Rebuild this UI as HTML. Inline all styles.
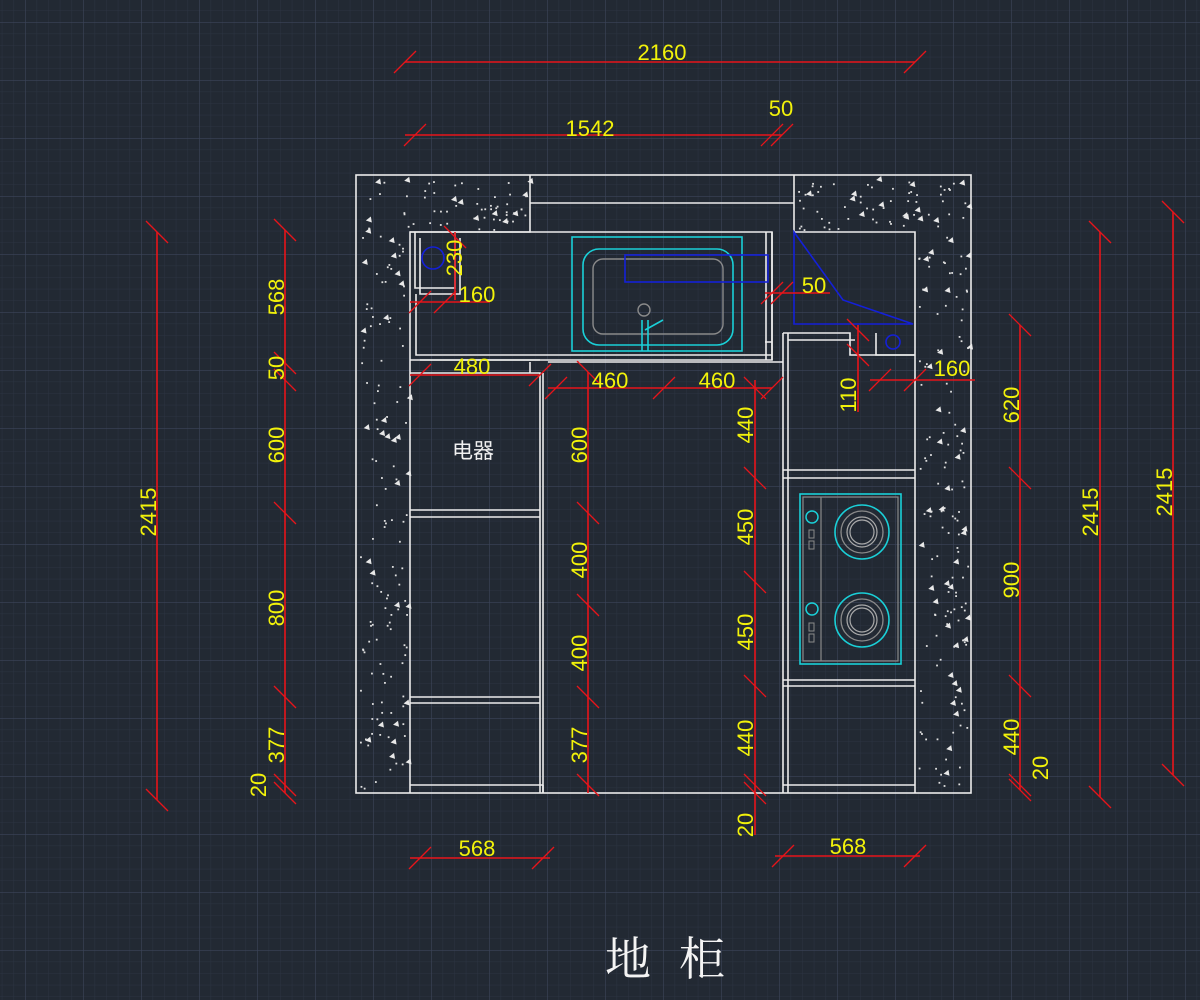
<!DOCTYPE html>
<html><head><meta charset="utf-8"><style>
html,body{margin:0;padding:0;background:#222933;}
svg{display:block}
.dim{stroke:#e8141a;stroke-width:1.6;fill:none}
.tk{stroke:#e8141a;stroke-width:1.3}
.t{fill:#f2f20a;font-family:"Liberation Sans",sans-serif;font-size:22px}
.w{stroke:#ececec;stroke-width:1.6;fill:none}
</style></head><body>
<svg id="s" width="1200" height="1000" viewBox="0 0 1200 1000" xmlns="http://www.w3.org/2000/svg">
<defs>
<pattern id="mi" width="11.6" height="11.6" patternUnits="userSpaceOnUse" x="25" y="22"><path d="M0 0H11.6M0 0V11.6" stroke="#2c3442" stroke-width="1"/></pattern>
<pattern id="ma" width="58" height="58" patternUnits="userSpaceOnUse" x="25" y="22"><path d="M0 0H58M0 0V58" stroke="#3c4459" stroke-width="1.2"/></pattern>
</defs>
<rect width="1200" height="1000" fill="#222933"/>
<rect width="1200" height="1000" fill="url(#mi)"/>
<rect width="1200" height="1000" fill="url(#ma)"/>
<g id="hatch"></g>
<g class="w">
<rect x="356" y="175" width="615" height="618"/>
<path d="M410 793V232H530V175M530 203H794M794 175V232H915V793"/>
<path d="M410 232H772V360H410"/>
<path d="M415 232V288H455V232M420 238V294H460V238"/>
<path d="M416 294V355H772M420 360H540"/>
<path d="M766 232V360M772 232V360M765 342H772"/>
<path d="M530 362V373M410 373H540V793M543 373V793M548 362H783"/>
<path d="M410 510H540M410 517H540M410 697H540M410 703H540M410 785H543M543 793V785"/>
<path d="M783 333V793M788 333V793M783 333H850V355H915M788 340H855"/>
<path d="M783 470H915M783 478H915M783 680H915M783 686H915M783 785H915"/>
<path d="M876 333V355H915"/>
</g>
<g fill="none">
<rect x="572" y="237" width="170" height="114" stroke="#1ad0d8" stroke-width="1.6"/>
<rect x="583" y="249" width="150" height="96" rx="16" stroke="#1ad0d8" stroke-width="1.6"/>
<rect x="593" y="259" width="130" height="75" rx="10" stroke="#8a8a8a" stroke-width="1.4"/>
<circle cx="644" cy="310" r="6" stroke="#8a8a8a" stroke-width="1.4"/>
<path d="M642 320V351M648 320V351M645 330L663 320" stroke="#1ad0d8" stroke-width="1.6"/>
<rect x="625" y="255" width="143" height="27" stroke="#1420d8" stroke-width="1.6"/>
<circle cx="433" cy="258" r="11" stroke="#1420d8" stroke-width="1.6"/>
<path d="M794 232L843 300L913 324H794Z" stroke="#1420d8" stroke-width="1.6"/>
<circle cx="893" cy="342" r="7" stroke="#1420d8" stroke-width="1.6"/>
</g>
<g fill="none">
<rect x="800" y="494" width="101" height="170" stroke="#1ad0d8" stroke-width="1.6"/>
<rect x="803" y="497" width="95" height="164" stroke="#8a8a8a" stroke-width="1.2"/>
<path d="M821 497V661" stroke="#8a8a8a" stroke-width="1.2"/>
<circle cx="812" cy="517" r="6" stroke="#1ad0d8" stroke-width="1.5"/>
<circle cx="812" cy="609" r="6" stroke="#1ad0d8" stroke-width="1.5"/>
<path d="M809 530h5v8h-5zM809 541h5v8h-5zM809 623h5v8h-5zM809 634h5v8h-5z" stroke="#8a8a8a" stroke-width="1"/>
<circle cx="862" cy="532" r="27" stroke="#1ad0d8" stroke-width="1.6"/>
<circle cx="862" cy="532" r="21" stroke="#8a8a8a" stroke-width="1.3"/>
<circle cx="862" cy="532" r="15" stroke="#aaa" stroke-width="1.2"/>
<circle cx="862" cy="532" r="12" stroke="#aaa" stroke-width="1.2"/>
<circle cx="862" cy="620" r="27" stroke="#1ad0d8" stroke-width="1.6"/>
<circle cx="862" cy="620" r="21" stroke="#8a8a8a" stroke-width="1.3"/>
<circle cx="862" cy="620" r="15" stroke="#aaa" stroke-width="1.2"/>
<circle cx="862" cy="620" r="12" stroke="#aaa" stroke-width="1.2"/>
</g>
<g id="dims"></g>
<g class="t">
<text x="662" y="60" text-anchor="middle">2160</text>
<text x="590" y="136" text-anchor="middle">1542</text>
<text x="781" y="116" text-anchor="middle">50</text>
<text x="477" y="302" text-anchor="middle">160</text>
<text x="814" y="293" text-anchor="middle">50</text>
<text x="472" y="374" text-anchor="middle">480</text>
<text x="610" y="388" text-anchor="middle">460</text>
<text x="717" y="388" text-anchor="middle">460</text>
<text x="952" y="376" text-anchor="middle">160</text>
<text x="477" y="856" text-anchor="middle">568</text>
<text x="848" y="854" text-anchor="middle">568</text>
</g>
<g id="vt" class="t"></g>
<text x="473" y="458" text-anchor="middle" fill="#f0f0f0" font-family="'Liberation Sans','Noto Sans CJK SC',sans-serif" font-size="21">电器</text>
<text x="628" y="975" text-anchor="middle" fill="#f4f4f4" font-family="'Liberation Serif','Noto Serif CJK SC',serif" font-size="46">地</text>
<text x="702" y="975" text-anchor="middle" fill="#f4f4f4" font-family="'Liberation Serif','Noto Serif CJK SC',serif" font-size="46">柜</text>
</svg>
<script>
var NS="http://www.w3.org/2000/svg";
function el(p,t,a){var e=document.createElementNS(NS,t);for(var k in a)e.setAttribute(k,a[k]);p.appendChild(e);return e;}
var D=document.getElementById('dims');
function tickV(x,y){el(D,'line',{x1:x-11,y1:y-11,x2:x+11,y2:y+11,'class':'tk'});}
function tickH(x,y){el(D,'line',{x1:x-11,y1:y+11,x2:x+11,y2:y-11,'class':'tk'});}
function H(y,x1,x2,ts){el(D,'line',{x1:x1,y1:y,x2:x2,y2:y,'class':'dim'});(ts||[x1,x2]).forEach(function(x){tickH(x,y)});}
function V(x,y1,y2,ts){el(D,'line',{x1:x,y1:y1,x2:x,y2:y2,'class':'dim'});(ts||[y1,y2]).forEach(function(y){tickV(x,y)});}
H(62,405,915);H(135,405,782,[415,772,782]);
H(302,410,490,[420,445]);H(293,765,830,[772,782]);
H(375,410,540,[420,540]);H(388,548,772,[556,664,772]);
H(380,870,975,[880,915]);
H(858,410,550,[420,543]);H(856,775,920,[783,915]);
V(157,232,800);V(285,230,793,[230,363,380,513,697,785,793]);
V(588,372,793,[372,513,605,697,785]);V(755,380,835,[388,478,582,686,785,793]);
V(1020,325,790,[325,478,686,785,790]);V(1100,232,797);V(1173,212,775);
V(858,325,412,[330,355]);V(455,232,300,[237]);
var VT=document.getElementById('vt');
function vt(x,y,s){var t=el(VT,'text',{x:0,y:0,'text-anchor':'middle',transform:'translate('+x+','+y+') rotate(-90)'});t.textContent=s;}
vt(156,512,'2415');vt(284,297,'568');vt(284,368,'50');vt(284,445,'600');vt(284,608,'800');vt(284,745,'377');vt(266,785,'20');
vt(587,445,'600');vt(587,560,'400');vt(587,653,'400');vt(587,745,'377');
vt(753,425,'440');vt(753,527,'450');vt(753,632,'450');vt(753,738,'440');vt(753,825,'20');
vt(1019,405,'620');vt(1019,580,'900');vt(1019,737,'440');vt(1048,768,'20');
vt(1098,512,'2415');vt(1172,492,'2415');vt(856,395,'110');vt(462,258,'230');
var Hg=document.getElementById('hatch');var seed=7;function r(){seed=(seed*16807)%2147483647;return seed/2147483647;}
function area(x,y,w,h,n){for(var i=0;i<n;i++){var px=x+r()*w,py=y+r()*h;if(r()<0.2){el(Hg,'path',{d:'M'+px+' '+py+'l5 -4l1 6z',fill:'#e8e8e8'});}else{el(Hg,'rect',{x:px,y:py,width:1.8,height:1.8,fill:'#e0e0e0'});}}}
area(360,180,48,610,150);area(410,180,118,50,50);area(797,180,170,50,70);area(918,235,50,555,150);
</script>
</body></html>
